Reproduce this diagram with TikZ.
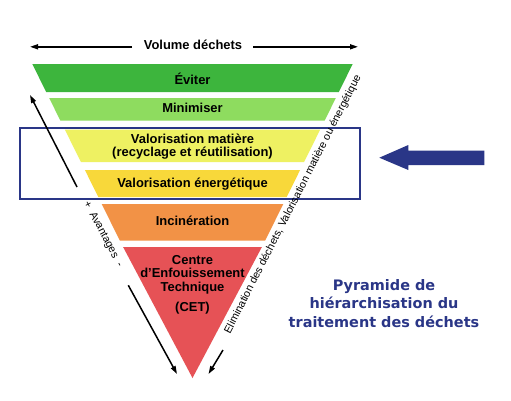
\documentclass[tikz,border=0pt]{standalone}
\usepackage{fontspec}
\setmainfont{Liberation Sans}
\newfontfamily\titlefont{DejaVu Sans}
\usetikzlibrary{arrows.meta}
\definecolor{cEviter}{RGB}{61,181,61}
\definecolor{cMin}{RGB}{142,220,95}
\definecolor{cMat}{RGB}{238,241,98}
\definecolor{cEne}{RGB}{248,216,58}
\definecolor{cInc}{RGB}{242,146,70}
\definecolor{cCET}{RGB}{230,82,86}
\definecolor{navy}{RGB}{42,54,135}
\tikzset{
  lbl/.style={font=\fontsize{13}{14}\selectfont\bfseries, inner sep=0pt, anchor=base},
  sidetxt/.style={font=\fontsize{10.8}{12}\selectfont, inner sep=0pt},
  ttl/.style={font=\titlefont\fontsize{14.5}{16}\selectfont\bfseries, text=navy, inner sep=0pt, anchor=base},
  blk/.style={line width=1.5bp, -{Triangle[length=8bp,width=5bp]}},
}
\begin{document}
\begin{tikzpicture}[x=1bp,y=-1bp]
\useasboundingbox (0,0) rectangle (511,400);
\fill[white] (0,0) rectangle (511,400);
% bands
\fill[cEviter] (32.3,64) -- (352.7,64) -- (338.8,92) -- (46.2,92) -- cycle;
\fill[cMin] (49.2,98) -- (335.8,98) -- (324.7,120.5) -- (60.3,120.5) -- cycle;
\fill[cMat] (64.8,129.5) -- (320.2,129.5) -- (304.1,162) -- (80.9,162) -- cycle;
\fill[cEne] (84.9,170) -- (300.1,170) -- (286.7,197) -- (98.3,197) -- cycle;
\fill[cInc] (101.7,204) -- (283.3,204) -- (265.1,240.7) -- (119.9,240.7) -- cycle;
\fill[cCET] (123.1,247) -- (261.9,247) -- (192.5,378) -- cycle;
% labels
\node[lbl] (eviter) at (192.5,84) {Éviter};
\node[lbl] (minim) at (192.5,112.7) {Minimiser};
\node[lbl] (mat1) at (192.5,143.3) {Valorisation matière};
\node[lbl] (mat2) at (192.5,156.7) {(recyclage et réutilisation)};
\node[lbl] (ener) at (192.5,187.3) {Valorisation énergétique};
\node[lbl] (incin) at (192.5,225.7) {Incinération};
\node[lbl] (cet1) at (192.5,264) {Centre};
\node[lbl] (cet2) at (192.5,277.5) {d'Enfouissement};
\node[lbl] (cet3) at (192.5,291) {Technique};
\node[lbl] (cet4) at (192.5,311) {(CET)};
% highlight box
\node[draw=navy, line width=2bp, minimum width=340bp, minimum height=70.5bp, inner sep=0pt] (box) at (190,163.5) {};
% big blue arrow
\fill[navy] (379.3,157.7) -- (408.3,145) -- (408.3,150.7) -- (484.3,150.7) -- (484.3,165) -- (408.3,165) -- (408.3,170) -- cycle;
% volume dechets
\node[lbl] (vol) at (193,49.3) {Volume déchets};
\coordinate (volL1) at (132,46.8);
\coordinate (volL2) at (30,46.8);
\coordinate (volR1) at (253,46.8);
\coordinate (volR2) at (358,46.8);
\draw[blk] (volL1) -- (volL2);
\draw[blk] (volR1) -- (volR2);
% avantages
\coordinate (avU1) at (77,187);
\coordinate (avU2) at (30,95);
\draw[blk] (avU1) -- (avU2);
\node[sidetxt, rotate=-62] (avant) at (103,234) {+\ \ Avantages\ \ -};
\coordinate (avD1) at (128.3,285.3);
\coordinate (avD2) at (177,374);
\draw[blk] (avD1) -- (avD2);
% right side text
\node[sidetxt, rotate=63] (elim) at (293,204.5) {Elimination des déchets, Valorisation matière ou énergétique};
\coordinate (elD1) at (223,350);
\coordinate (elD2) at (208.5,374);
\draw[blk] (elD1) -- (elD2);
% title
\node[ttl] (t1) at (384,290) {Pyramide de};
\node[ttl] (t2) at (384,308.5) {hiérarchisation du};
\node[ttl] (t3) at (384,327) {traitement des déchets};
\end{tikzpicture}
\end{document}
